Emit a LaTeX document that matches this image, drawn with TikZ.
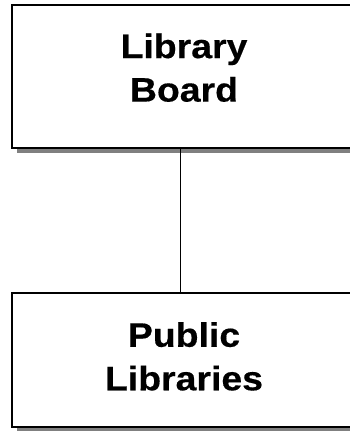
\documentclass[tikz,border=0pt]{standalone}
\usepackage{fontspec}
\setmainfont{Liberation Sans}
\newfontfamily\boxfont[FakeStretch=1.1,FakeBold=0.4]{Liberation Sans}
\usetikzlibrary{shadows}
\begin{document}
\begin{tikzpicture}[x=1pt,y=1pt,
  orgbox/.style={draw=black, line width=1.8pt, fill=white, minimum width=340pt, inner sep=0pt,
    drop shadow={shadow xshift=5pt, shadow yshift=-5pt, fill=black!50, opacity=1}},
  boxtext/.style={font=\boxfont\bfseries\fontsize{34}{43.5}\selectfont, align=center, inner sep=0pt},
  link/.style={draw=black, line width=1pt}]
\useasboundingbox (0,0) rectangle (350,431);
\clip (0,0) rectangle (350,431);
\node[orgbox, minimum height=143pt] (board) at (182,354.5) {};
\node[orgbox, minimum height=134pt] (libs) at (182,71) {};
\draw[link] ([xshift=-2pt]board.south) -- ([xshift=-2pt]libs.north);
\node[boxtext] (boardtext) at (184,363.3) {Library\\Board};
\node[boxtext] (libstext) at (184,74.6) {Public\\Libraries};
\end{tikzpicture}
\end{document}
